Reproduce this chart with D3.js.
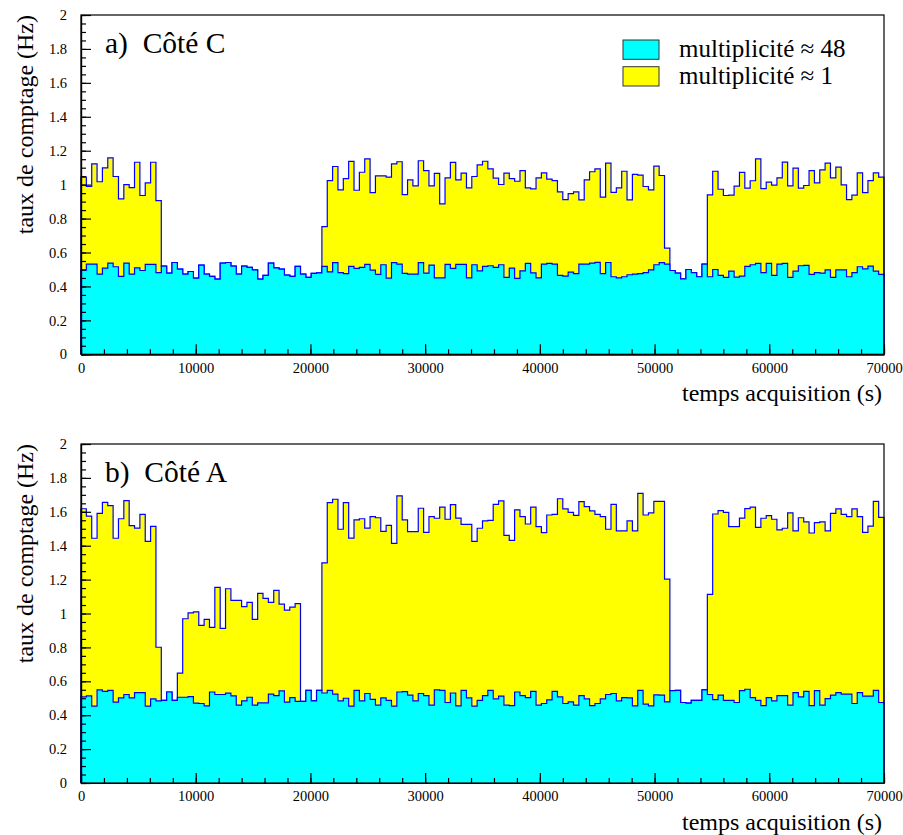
<!DOCTYPE html>
<html><head><meta charset="utf-8">
<script src="https://cdn.jsdelivr.net/npm/d3@7/dist/d3.min.js"></script>
<style>
body{margin:0;background:#fff}
text{font-family:"Liberation Serif","Times New Roman",Times,"DejaVu Serif",serif;fill:#000}
</style>
</head><body>
<svg id="chart" width="903" height="835"></svg>
<script>
// ---------- data ----------
const xDomain = [0, 70000];
const nBins = 150;
const xTickValues = [0, 10000, 20000, 30000, 40000, 50000, 60000, 70000];
const yTickValues = [0, 0.2, 0.4, 0.6, 0.8, 1, 1.2, 1.4, 1.6, 1.8, 2];
const yTickLabels = ["0","0.2","0.4","0.6","0.8","1","1.2","1.4","1.6","1.8","2"];
const legendLabels = ["multiplicité ≈ 48", "multiplicité ≈ 1"];
const panelTitles = ["a)  Côté C", "b)  Côté A"];
const xTitle = "temps acquisition (s)";
const yTitle = "taux de comptage (Hz)";

// Côté C : multiplicité ≈ 48 (cyan)
const coteC_mult48 = [
0.496,0.532,0.532,0.473,0.508,0.538,0.516,0.459,0.538,0.473,0.510,0.494,0.530,0.530,0.481,
0.520,0.479,0.541,0.502,0.473,0.488,0.449,0.526,0.473,0.459,0.443,0.538,0.541,0.520,0.473,
0.520,0.512,0.498,0.443,0.465,0.538,0.510,0.502,0.467,0.459,0.518,0.473,0.453,0.477,0.480,
0.518,0.486,0.540,0.482,0.475,0.518,0.506,0.512,0.530,0.496,0.471,0.528,0.449,0.540,0.532,
0.477,0.473,0.473,0.540,0.479,0.526,0.451,0.451,0.530,0.506,0.530,0.530,0.451,0.528,0.492,
0.518,0.522,0.512,0.528,0.453,0.508,0.447,0.492,0.536,0.480,0.451,0.532,0.536,0.532,0.465,
0.461,0.484,0.475,0.532,0.532,0.538,0.542,0.475,0.541,0.457,0.451,0.457,0.469,0.473,0.475,
0.482,0.498,0.528,0.540,0.532,0.494,0.479,0.445,0.500,0.482,0.457,0.532,0.457,0.500,0.465,
0.453,0.490,0.455,0.461,0.518,0.528,0.536,0.482,0.536,0.465,0.532,0.536,0.453,0.490,0.522,
0.524,0.471,0.482,0.479,0.498,0.453,0.498,0.498,0.457,0.482,0.516,0.504,0.520,0.490,0.471];

// Côté C : multiplicité ≈ 1 (yellow, stacked total; null = no entry)
const coteC_mult1 = [
1.044,0.989,1.123,1.017,1.099,1.158,1.048,0.916,1.000,0.983,1.132,0.936,1.011,1.132,0.906,
null,null,null,null,null,null,null,null,null,null,null,null,null,null,null,
null,null,null,null,null,null,null,null,null,null,null,null,null,null,null,
0.752,1.024,1.107,0.969,1.036,1.137,0.967,1.073,1.152,0.953,1.052,1.052,1.044,1.123,1.135,
0.941,1.028,0.993,1.141,1.083,0.993,1.066,0.887,1.040,1.131,1.028,1.068,0.981,1.048,1.117,
1.138,1.093,1.038,1.001,1.068,1.036,1.020,1.083,0.981,0.975,1.040,1.070,1.032,1.024,0.957,
0.912,0.947,0.957,0.910,1.028,1.076,1.093,0.926,1.127,0.955,0.981,1.079,0.910,1.060,1.056,
0.989,0.969,1.109,1.054,0.626,null,null,null,null,null,null,null,0.940,1.079,0.973,
0.936,0.938,0.991,1.072,0.979,1.023,1.152,0.977,1.015,0.997,1.040,1.133,0.993,1.097,0.979,
0.995,1.083,1.011,1.087,1.127,1.040,1.103,0.999,0.912,0.938,1.070,0.953,1.024,1.070,1.044];

// Côté A : multiplicité ≈ 48 (cyan)
const coteA_mult48 = [
0.508,0.514,0.453,0.549,0.541,0.547,0.477,0.502,0.522,0.502,0.533,0.533,0.453,0.496,0.485,
0.488,0.537,0.488,0.506,0.506,0.510,0.471,0.469,0.455,0.537,0.522,0.522,0.530,0.514,0.459,
0.485,0.506,0.459,0.473,0.473,0.524,0.516,0.543,0.477,0.504,0.481,0.482,0.547,0.484,0.547,
0.531,0.547,0.524,0.484,0.500,0.453,0.547,0.484,0.528,0.493,0.459,0.502,0.488,0.453,0.537,
0.539,0.518,0.484,0.528,0.516,0.459,0.549,0.547,0.475,0.531,0.455,0.547,0.502,0.453,0.488,
0.516,0.547,0.496,0.512,0.459,0.457,0.537,0.516,0.504,0.541,0.459,0.469,0.490,0.541,0.508,
0.469,0.479,0.459,0.516,0.496,0.457,0.469,0.496,0.522,0.528,0.484,0.504,0.502,0.455,0.547,
0.465,0.455,0.520,0.518,0.479,0.545,0.547,0.475,0.471,0.488,0.488,0.549,0.522,0.492,0.518,
0.488,0.488,0.475,0.545,0.553,0.504,0.488,0.457,0.504,0.484,0.516,0.516,0.459,0.533,0.508,
0.541,0.457,0.545,0.459,0.498,0.518,0.533,0.524,0.524,0.469,0.533,0.512,0.512,0.547,0.475];

// Côté A : multiplicité ≈ 1 (yellow, stacked total; null = no entry)
const coteA_mult1 = [
1.618,1.575,1.444,1.591,1.656,1.636,1.444,1.559,1.666,1.518,1.504,1.585,1.426,1.514,0.801,
null,null,null,0.648,0.969,1.004,1.010,0.930,0.965,0.918,1.154,0.912,1.146,1.077,1.077,
1.040,1.066,0.965,1.119,1.089,1.066,1.136,1.055,1.020,1.038,1.058,null,null,null,null,
1.299,1.654,1.674,1.497,1.654,1.445,1.552,1.559,1.504,1.571,1.565,1.485,1.520,1.414,1.694,
1.552,1.483,1.483,1.621,1.479,1.571,1.562,1.627,1.556,1.642,1.563,1.526,1.526,1.426,1.503,
1.546,1.549,1.644,1.664,1.461,1.432,1.611,1.571,1.528,1.627,1.512,1.477,1.581,1.585,1.677,
1.617,1.597,1.579,1.660,1.630,1.605,1.585,1.571,1.497,1.644,1.488,1.488,1.546,1.488,1.709,
1.581,1.594,1.662,1.662,1.203,null,null,null,null,null,null,null,1.113,1.587,1.607,
1.597,1.512,1.512,1.563,1.619,1.627,1.508,1.562,1.577,1.556,1.493,1.503,1.594,1.488,1.565,
1.540,1.475,1.536,1.540,1.488,1.591,1.617,1.585,1.571,1.617,1.571,1.479,1.516,1.662,1.567];

// ---------- drawing ----------
const svg = d3.select("#chart");
const plotLeft = 81, plotRight = 884;
const panels = [
  {top: 15,  bottom: 354.3, low: coteC_mult48, high: coteC_mult1, title: panelTitles[0], legend: true},
  {top: 444, bottom: 783,   low: coteA_mult48, high: coteA_mult1, title: panelTitles[1], legend: false}
];
const colCyan = "#00ffff", colYellow = "#ffff00", colLine = "#0000ff";
const binW = (xDomain[1] - xDomain[0]) / nBins;
const serif = '"Liberation Serif","Times New Roman",Times,"DejaVu Serif",serif';

panels.forEach(p => {
  const g = svg.append("g");
  const x = d3.scaleLinear().domain(xDomain).range([plotLeft, plotRight]);
  const y = d3.scaleLinear().domain([0, 2]).range([p.bottom, p.top]);

  function stepData(vals) {
    const pts = [{x: xDomain[0], v: 0}];
    vals.forEach((v, i) => pts.push({x: xDomain[0] + i * binW, v}));
    pts.push({x: xDomain[1], v: vals[vals.length - 1]});
    pts.push({x: xDomain[1], v: 0});
    return pts;
  }
  const area = d3.area().curve(d3.curveStepAfter).x(d => x(d.x)).y0(y(0)).y1(d => y(d.v));
  const line = d3.line().curve(d3.curveStepAfter).x(d => x(d.x)).y(d => y(d.v));

  const highVals = p.high.map((v, i) => v == null ? p.low[i] : v);
  const hd = stepData(highVals), ld = stepData(p.low);

  g.append("path").attr("d", area(hd)).attr("fill", colYellow);
  g.append("path").attr("d", line(hd)).attr("fill", "none").attr("stroke", colLine).attr("stroke-width", 1.2);
  g.append("path").attr("d", area(ld)).attr("fill", colCyan);
  g.append("path").attr("d", line(ld)).attr("fill", "none").attr("stroke", colLine).attr("stroke-width", 1.2);

  // frame
  g.append("rect").attr("x", plotLeft).attr("y", p.top)
    .attr("width", plotRight - plotLeft).attr("height", p.bottom - p.top)
    .attr("fill", "none").attr("stroke", "#000").attr("stroke-width", 1.2);

  // x axis
  const xMinor = d3.range(0, 70001, 2000);
  const gxm = g.append("g").attr("transform", `translate(0,${p.bottom})`)
    .call(d3.axisBottom(x).tickValues(xMinor).tickSize(-5).tickSizeOuter(0).tickFormat(""));
  const gx = g.append("g").attr("transform", `translate(0,${p.bottom})`)
    .call(d3.axisBottom(x).tickValues(xTickValues).tickSize(-10).tickSizeOuter(0).tickPadding(8).tickFormat(d3.format("d")));
  // y axis
  const yMinor = d3.range(0, 2.0001, 0.05);
  const gym = g.append("g").attr("transform", `translate(${plotLeft},0)`)
    .call(d3.axisLeft(y).tickValues(yMinor).tickSize(-5).tickSizeOuter(0).tickFormat(""));
  const gy = g.append("g").attr("transform", `translate(${plotLeft},0)`)
    .call(d3.axisLeft(y).tickValues(yTickValues).tickSize(-10).tickSizeOuter(0).tickPadding(14)
      .tickFormat((d, i) => yTickLabels[i]));
  [gxm, gx, gym, gy].forEach(a => {
    a.attr("font-family", serif);
    a.selectAll("line").attr("stroke", "#000").attr("stroke-width", 1.2);
    a.select(".domain").attr("stroke", "#000").attr("stroke-width", 1.2);
    a.selectAll("text").attr("font-size", 14.5).attr("fill", "#000");
  });

  // titles
  g.append("text").attr("x", plotRight - 2).attr("y", p.bottom + 47)
    .attr("text-anchor", "end").attr("font-size", 24).text(xTitle);
  g.append("text").attr("transform", `translate(33,${p.top}) rotate(-90)`)
    .attr("text-anchor", "end").attr("font-size", 24).text(yTitle);
  g.append("text").attr("x", 105).attr("y", p.top + 38)
    .attr("font-size", 29.5).style("white-space", "pre").text(p.title);

  if (p.legend) {
    const items = [{c: colCyan, t: legendLabels[0]}, {c: colYellow, t: legendLabels[1]}];
    items.forEach((it, i) => {
      const yy = 40 + i * 26.7;
      g.append("rect").attr("x", 623).attr("y", yy).attr("width", 36).attr("height", 19.3)
        .attr("fill", it.c).attr("stroke", "#333").attr("stroke-width", 1);
      g.append("text").attr("x", 679).attr("y", yy + 17).attr("font-size", 25).text(it.t);
    });
  }
});
</script>
</body></html>
